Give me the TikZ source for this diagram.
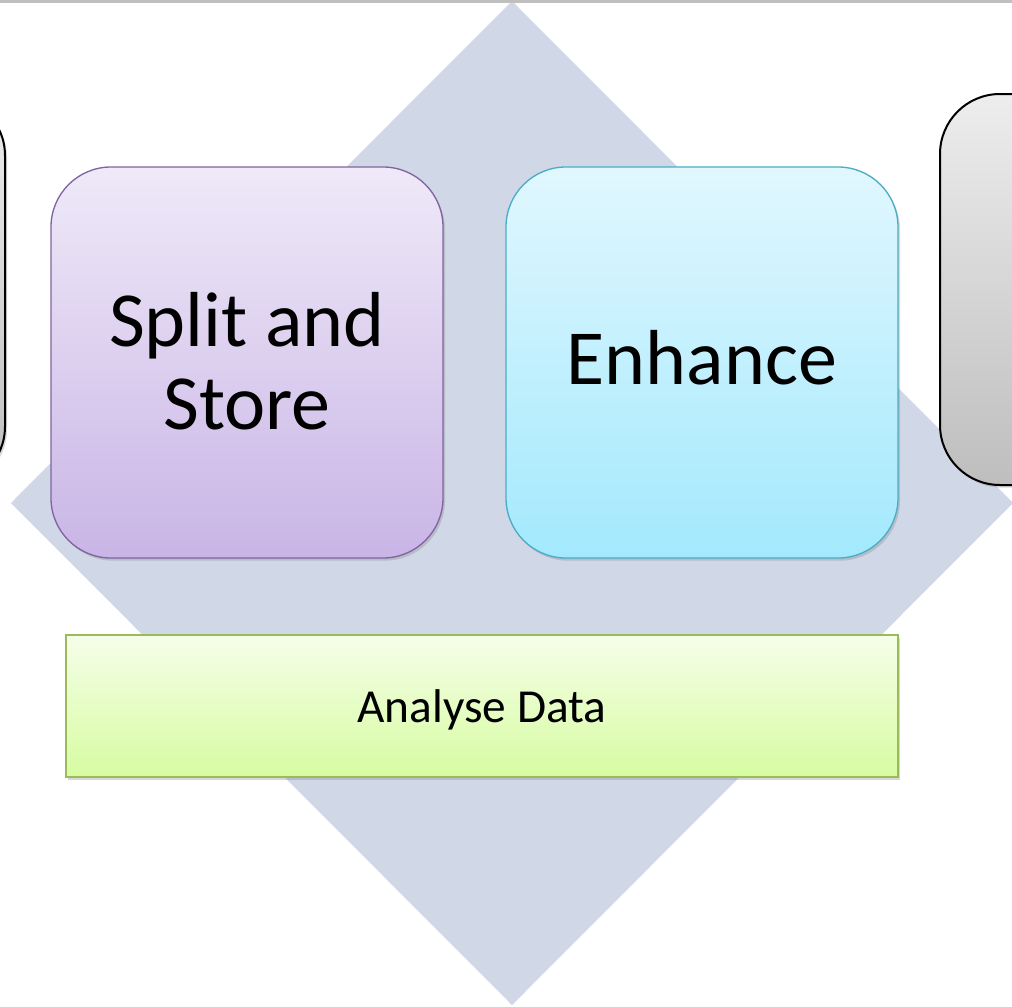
\documentclass[tikz,border=0pt]{standalone}
\usepackage{fontspec}
\setmainfont{Carlito}
\usepackage{tikz}
\usetikzlibrary{shadows}
\definecolor{diam}{HTML}{D0D7E6}
\definecolor{purpA}{HTML}{EFE9F8}
\definecolor{purpB}{HTML}{C9B5E6}
\definecolor{purpL}{HTML}{8064A2}
\definecolor{cyanA}{HTML}{E1F7FE}
\definecolor{cyanB}{HTML}{A3E9FD}
\definecolor{cyanL}{HTML}{4BACC6}
\definecolor{grnA}{HTML}{F5FEE8}
\definecolor{grnB}{HTML}{D7FCA2}
\definecolor{grnL}{HTML}{9BBB59}
\definecolor{grayA}{HTML}{EDEDED}
\definecolor{grayB}{HTML}{BEBEBE}

\begin{document}
\begin{tikzpicture}[x=0.75pt,y=-0.75pt,
    blk/.style={rounded corners=45pt, minimum width=294pt, minimum height=293.25pt,
      line width=1pt, align=center, inner sep=0pt,
      drop shadow={shadow xshift=1.5pt, shadow yshift=-2pt, opacity=0.3},
      font=\fontsize{58.5}{62.5}\selectfont},
    grayblk/.style={blk, draw=black, line width=1.5pt, top color=grayA, bottom color=grayB}]
    \useasboundingbox (0,0) rectangle (1012,1006);
    \fill[white] (0,0) rectangle (1012,1006);
    \fill[diam] (512,1) -- (1013,503) -- (512,1005) -- (11,503) -- cycle;
    \node[grayblk] (L) at (-191,291) {};
    \node[grayblk] (G) at (1136,289.5) {};
    \node[blk, draw=purpL, top color=purpA, bottom color=purpB] (S) at (247,362.5) {\raisebox{2pt}{Split and}\\\raisebox{2pt}{Store}};
    \node[blk, draw=cyanL, top color=cyanA, bottom color=cyanB, text height=33.75pt] (E) at (702,362.5) {Enhance};
    \node[draw=grnL, line width=1.5pt, top color=grnA, bottom color=grnB,
      minimum width=624pt, minimum height=106.5pt, inner sep=0pt, text depth=0pt,
      drop shadow={shadow xshift=1.5pt, shadow yshift=-2pt, opacity=0.3},
      font=\fontsize{35.5}{42}\selectfont] (A) at (482,706) {Analyse Data};
    \draw[black!25, line width=2.25pt] (0,1.5) -- (1012,1.5);
  \end{tikzpicture}
\end{document}
